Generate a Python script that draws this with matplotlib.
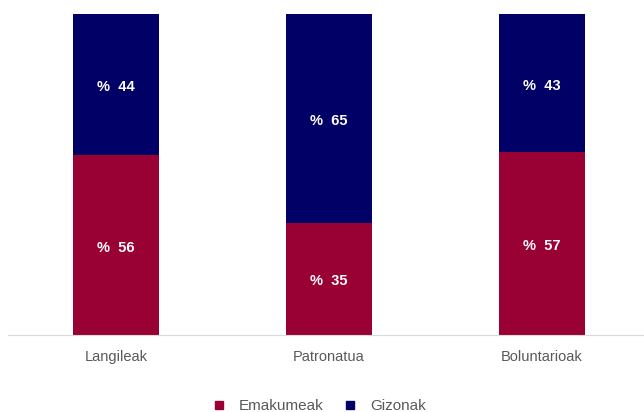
import matplotlib
matplotlib.use("Agg")
import matplotlib.pyplot as plt
from matplotlib.lines import Line2D

categories = ["Langileak", "Patronatua", "Boluntarioak"]
emakumeak = [56, 35, 57]
gizonak = [44, 65, 43]
series_names = ["Emakumeak", "Gizonak"]

red = "#990033"
navy = "#000066"

plt.rcParams['font.family'] = ['Liberation Sans', 'DejaVu Sans']

fig = plt.figure(figsize=(6.44, 4.12), dpi=100)
ax = fig.add_axes([9.5/644, 77/412, 639/644, (335-14)/412])

x = range(len(categories))
w = 0.405
ax.bar(x, emakumeak, width=w, color=red)
ax.bar(x, gizonak, width=w, bottom=emakumeak, color=navy)
shift = 0.8
for i, (e, g) in enumerate(zip(emakumeak, gizonak)):
    ax.text(i, e/2 - shift, f"%  {e}", ha="center", va="center", color="white", fontsize=10.5, fontweight="bold")
    ax.text(i, e + g/2 - shift, f"%  {g}", ha="center", va="center", color="white", fontsize=10.5, fontweight="bold")

ax.set_xlim(-0.5, 2.5)
ax.set_ylim(0, 100)
ax.set_yticks([])
ax.set_xticks(list(x))
ax.set_xticklabels(categories, fontsize=10.5, color="#595959")
ax.tick_params(axis="x", length=0, pad=11)
for s in ["top", "right", "left"]:
    ax.spines[s].set_visible(False)
ax.spines["bottom"].set_color("#d9d9d9")
ax.spines["bottom"].set_bounds(-0.5 - 2/213, 2.5)

handles = [Line2D([], [], marker="s", linestyle="none", markersize=6, color=c) for c in [red, navy]]
fig.legend(handles, series_names, loc="center", bbox_to_anchor=(0.489, 6/412), ncol=2, frameon=False,
           fontsize=11, labelcolor="#595959", handletextpad=0.3, columnspacing=0.75)

fig.savefig("out.png", dpi=100)
